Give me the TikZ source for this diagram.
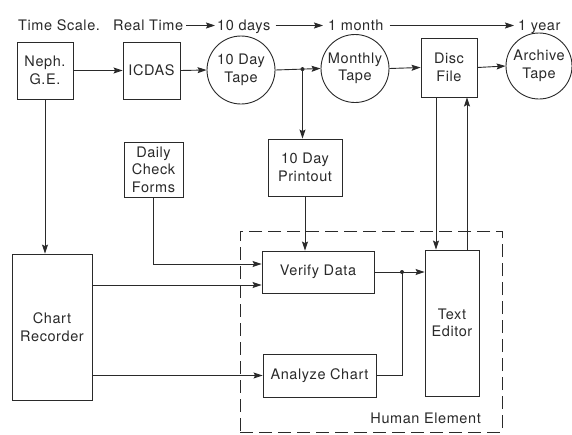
\documentclass[tikz,border=0pt]{standalone}
\usepackage{fontspec}
\setmainfont{TeX Gyre Heros}[LetterSpace=4]
\usetikzlibrary{arrows.meta}
\definecolor{ink}{HTML}{2A2A2A}
\begin{document}
\begin{tikzpicture}[x=1pt,y=-1pt,
  every node/.style={font=\fontsize{14.5}{17.5}\selectfont, text=ink, align=center},
  box/.style={draw=ink, line width=0.9pt, inner sep=0pt},
  tape/.style={draw=ink, line width=0.9pt, circle, inner sep=0pt},
  link/.style={draw=ink, line width=0.9pt},
  arr/.style={link, -{Stealth[length=9pt,width=6pt,inset=1.5pt]}},
  timelbl/.style={inner sep=0pt, anchor=base west},
  joint/.style={circle, fill=ink, inner sep=0pt, minimum size=4pt}]
\useasboundingbox (0,0) rectangle (572,434);
\fill[white] (0,0) rectangle (572,434);

% human element boundary
\node (human) [draw=ink, line width=0.9pt, dash pattern=on 13pt off 6pt,
  minimum width=262, minimum height=201, inner sep=0pt] at (371,331.5) {};
\node (humanlbl) [anchor=east, inner sep=0pt] at (481,418) {Human Element};

% time scale
\node (ts0) [timelbl] at (18,30) {Time Scale.};
\node (ts1) [timelbl] at (113,30) {Real Time};
\node (ts2) [timelbl] at (217,30) {10 days};
\node (ts3) [timelbl] at (328,30) {1 month};
\node (ts4) [timelbl] at (518,30) {1 year};
\draw[arr] ([xshift=3pt,yshift=4.5pt]ts1.base east) -- ([xshift=-2pt,yshift=4.5pt]ts2.base west);
\draw[arr] ([xshift=5pt,yshift=4.5pt]ts2.base east) -- ([xshift=-5pt,yshift=4.5pt]ts3.base west);
\draw[arr] ([xshift=6pt,yshift=4.5pt]ts3.base east) -- ([xshift=-4pt,yshift=4.5pt]ts4.base west);

% top row
\node (neph) [box, minimum width=56, minimum height=57] at (45,70.5) {Neph.\\G.E.};
\node (icdas) [box, minimum width=57, minimum height=57] at (151.5,70.5) {ICDAS};
\node (tape10) [tape, minimum size=68] at (241,70) {10 Day\\Tape};
\node (monthly) [tape, minimum size=68] at (355,68.5) {Monthly\\Tape};
\node (disc) [box, minimum width=56, minimum height=59] at (449,67.5) {Disc\\File};
\node (archive) [tape, minimum size=66] at (539,66) {Archive\\Tape};

% middle row
\node (daily) [box, minimum width=59, minimum height=55] at (153.5,169.5) {Daily\\Check\\Forms};
\node (printout) [box, minimum width=74, minimum height=57] at (305,167.5) {10 Day\\Printout};

% lower part
\node (chart) [box, minimum width=80, minimum height=146] at (52,327) {Chart\\Recorder};
\node (verify) [box, minimum width=112, minimum height=42] at (318,272) {Verify Data};
\node (analyze) [box, minimum width=113, minimum height=43] at (319.5,375.5) {Analyze Chart};
\node (editor) [box, minimum width=54, minimum height=146] at (452,323) {Text\\Editor};

% data flow along the top
\draw[arr] (neph.east) -- (icdas.west);
\draw[arr] (icdas.east) -- (tape10.west);
\path (tape10.east) -- (monthly.west) coordinate[pos=0.6] (split);
\draw[arr] (tape10.east) -- (monthly.west);
\node[joint] at (split) {};
\draw[arr] (monthly.east) -- (disc.west);
\draw[arr] (disc.east) -- (archive.west);

% printout and checks
\draw[arr] (split) -- (split |- printout.north);
\draw[arr] (printout.south) -- (printout.south |- verify.north);
\coordinate (vin1) at ([yshift=8pt]verify.west);
\draw[arr] (daily.south) |- (vin1);

% chart recorder
\draw[arr] (neph.south) -- (neph.south |- chart.north);
\coordinate (vin2) at ([yshift=-13pt]verify.west);
\draw[arr] (chart.east |- vin2) -- (vin2);
\draw[arr] (chart.east |- analyze.west) -- (analyze.west);

% into the editor
\coordinate (merge) at (402,272);
\draw[arr] (verify.east) -- (editor.west |- verify.east);
\draw[link] (analyze.east) -| (merge);
\node[joint] at (merge) {};

% disc file <-> editor
\coordinate (dout) at ([xshift=-13pt]disc.south);
\coordinate (din) at ([xshift=18pt]disc.south);
\draw[arr] (dout) -- (dout |- editor.north);
\draw[arr] (din |- editor.north) -- (din);
\end{tikzpicture}
\end{document}
